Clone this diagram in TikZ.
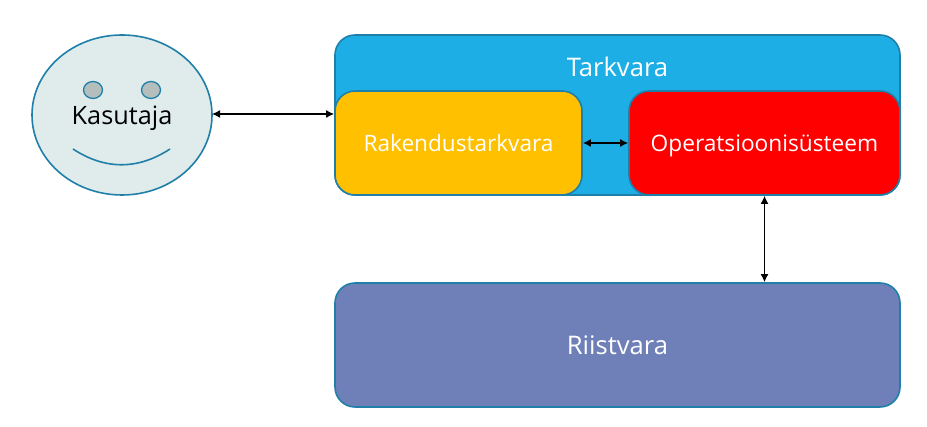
\documentclass[tikz,border=0pt]{standalone}
\usepackage{fontspec}
\setmainfont{Open Sans}
\usepackage{xcolor}
\usetikzlibrary{arrows.meta}
\definecolor{edgeblue}{HTML}{1F7FA8}
\definecolor{tarkvarablue}{HTML}{1EAEE6}
\definecolor{rakendusorange}{HTML}{FFC000}
\definecolor{riistvarablue}{HTML}{6F80B8}
\definecolor{facegray}{HTML}{E0ECEC}
\definecolor{eyegray}{HTML}{B4BEBC}
\tikzset{
    box/.style={draw=edgeblue,line width=1.6pt,rounded corners=20pt,inner sep=0pt,text=white,text depth=0pt},
    link/.style={{Latex[length=8pt,width=8pt]}-{Latex[length=8pt,width=8pt]},line width=1.5pt}
}
\begin{document}
\begin{tikzpicture}[x=1pt,y=1pt]
        \useasboundingbox (0, 0) rectangle (927, 427);
        \node[box,fill=tarkvarablue,minimum width=565pt,minimum height=160pt] (tarkvara) at (617.5, 312) {};
        \node[text=white,font=\fontsize{25.6}{30}\selectfont] (tarkvaralabel) at (617.5, 360) {Tarkvara};
        \node[box,fill=rakendusorange,minimum width=247pt,minimum height=104pt,text height=17pt,font=\fontsize{22.6}{27}\selectfont] (rakendus) at (458.5, 284) {Rakendustarkvara};
        \node[box,fill=red,minimum width=271pt,minimum height=104pt,text height=17pt,font=\fontsize{22.7}{27}\selectfont] (os) at (764.5, 284) {Operatsioonisüsteem};
        \node[box,fill=riistvarablue,minimum width=565pt,minimum height=124pt,text height=20pt,font=\fontsize{25.6}{30}\selectfont] (riistvara) at (617.5, 82) {Riistvara};

        \filldraw[draw=edgeblue,fill=facegray,line width=1.6pt] (122, 312) ellipse (90 and 80);
        \coordinate (kasutajaeast) at (212, 313);
        \node[text depth=0pt,text height=20pt,font=\fontsize{25.3}{30}\selectfont] (kasutaja) at (122, 312) {Kasutaja};
        \filldraw[draw=edgeblue,fill=eyegray,line width=1.3pt] (93, 337) ellipse (9.5 and 8.5);
        \filldraw[draw=edgeblue,fill=eyegray,line width=1.3pt] (151, 337) ellipse (9.5 and 8.5);
        \draw[edgeblue,line width=1.6pt] (73, 278) .. controls (105, 257) and (138, 257) .. (170, 278);

        \draw[link] (kasutajaeast) -- (kasutajaeast -| rakendus.west);
        \draw[link] (rakendus.east) -- (os.west);
        \draw[link] (os.south) -- (riistvara.north -| os.south);
    \end{tikzpicture}
\end{document}
